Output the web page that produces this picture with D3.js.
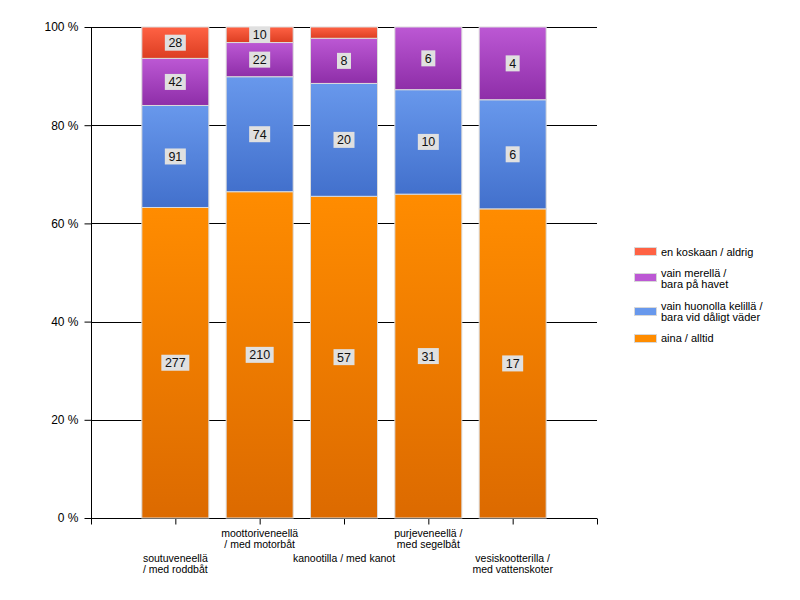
<!DOCTYPE html>
<html><head><meta charset="utf-8">
<script src="https://cdn.jsdelivr.net/npm/d3@7"></script>
<style>body{margin:0;background:#fff;} svg{display:block;font-family:"Liberation Sans",Arial,sans-serif;}</style>
</head><body>
<svg id="c" width="800" height="600"></svg>
<script>
const categories = [["soutuveneellä","/ med roddbåt"],["moottoriveneellä","/ med motorbåt"],["kanootilla / med kanot"],["purjeveneellä /","med segelbåt"],["vesiskootterilla /","med vattenskoter"]];
const seriesNames = [["aina / alltid"],["vain huonolla kelillä /","bara vid dåligt väder"],["vain merellä /","bara på havet"],["en koskaan / aldrig"]];
const aina = [277,210,57,31,17];
const huono = [91,74,20,10,6];
const meri = [42,22,8,6,4];
const ei = [28,10,2,0,0];
const yTicks = [0,20,40,60,80,100];
const colors = [["#ff8c00","#dc6a00"],["#6898ec","#4270cc"],["#bc58d4","#8e2ea8"],["#ff6244","#dc3e22"]];

const series = [aina, huono, meri, ei];
const svg = d3.select("#c");
const x = d3.scaleLinear().domain([0,6]).range([91,597]);
const y = d3.scaleLinear().domain([0,100]).range([518,27]);
const barW = 67;

const defs = svg.append("defs");
colors.forEach((c,i)=>{
  const g = defs.append("linearGradient").attr("id","g"+i).attr("x1",0).attr("y1",0).attr("x2",0).attr("y2",1);
  g.append("stop").attr("offset","0%").attr("stop-color",c[0]);
  g.append("stop").attr("offset","100%").attr("stop-color",c[1]);
});

// gridlines
svg.append("g").selectAll("line").data(yTicks.filter(d=>d>0)).join("line")
  .attr("x1",x(0)).attr("x2",x(6)).attr("y1",d=>Math.round(y(d))+0.5).attr("y2",d=>Math.round(y(d))+0.5)
  .attr("stroke","#000").attr("stroke-width",1);

// y axis
const yAxis = d3.axisLeft(y).tickValues(yTicks).tickFormat(d=>d+" %").tickSize(7).tickPadding(6);
const yg = svg.append("g").attr("transform","translate(91.5,0)").call(yAxis);
yg.select(".domain").attr("d","M0,"+y(100)+"V"+(y(0)));
yg.selectAll("text").attr("font-size",12).attr("fill","#000").attr("font-family","Liberation Sans, Arial, sans-serif");

// x axis
const xAxis = d3.axisBottom(x).tickValues([0,1,2,3,4,5,6]).tickFormat("").tickSize(6).tickSizeOuter(0);
const xg = svg.append("g").attr("transform","translate(0,518.5)").call(xAxis);
xg.select(".domain").attr("d","M"+x(0)+",0H"+x(6));

// stacked bars
const totals = aina.map((_,i)=>series.reduce((s,a)=>s+a[i],0));
const segs = [];
categories.forEach((c,i)=>{
  let cum = 0;
  series.forEach((s,k)=>{
    const v = s[i];
    const p0 = cum/totals[i]*100; cum += v; const p1 = cum/totals[i]*100;
    if (v>0) segs.push({i,k,v,p0,p1});
  });
});
const bars = svg.append("g");
bars.selectAll("rect").data(segs).join("rect")
  .attr("x",d=>x(d.i+1)-barW/2).attr("width",barW)
  .attr("y",d=>y(d.p1)).attr("height",d=>y(d.p0)-y(d.p1))
  .attr("fill",d=>"url(#g"+d.k+")").attr("stroke","#dcdcdc").attr("stroke-width",1);

// value labels
const lab = svg.append("g");
segs.filter(d=>y(d.p0)-y(d.p1)>12).forEach(d=>{
  const cx = x(d.i+1), cy = Math.max((y(d.p0)+y(d.p1))/2, 34.5);
  const t = String(d.v);
  const w = t.length*7+7;
  lab.append("rect").attr("x",cx-w/2).attr("y",cy-8).attr("width",w).attr("height",16).attr("fill","#e0e0e0");
  lab.append("text").attr("x",cx).attr("y",cy+4.5).attr("text-anchor","middle").attr("font-size",12.5).attr("fill","#111").text(t);
});

// x labels (staggered)
const xl = svg.append("g").attr("font-size",10.5).attr("fill","#000").attr("text-anchor","middle");
categories.forEach((c,i)=>{
  const base = i%2===0 ? 561.5 : 537;
  const t = xl.append("text").attr("x",x(i+1)).attr("y",base);
  c.forEach((line,j)=>t.append("tspan").attr("x",x(i+1)).attr("y",base+j*11).text(line));
});

// legend
const legendItems = [
  {k:3, sy:247, ty:[255.5]},
  {k:2, sy:273, ty:[276.5,287.5]},
  {k:1, sy:307, ty:[310,321]},
  {k:0, sy:334, ty:[341.5]}
];
const lg = svg.append("g").attr("font-size",11).attr("fill","#000");
legendItems.forEach(it=>{
  lg.append("rect").attr("x",634.5).attr("y",it.sy+0.5).attr("width",22).attr("height",8)
    .attr("fill",colors[it.k][0]).attr("stroke","#d8d8d8");
  const t = lg.append("text").attr("x",661);
  seriesNames[it.k].forEach((line,j)=>t.append("tspan").attr("x",661).attr("y",it.ty[j]).text(line));
});
</script>
</body></html>
